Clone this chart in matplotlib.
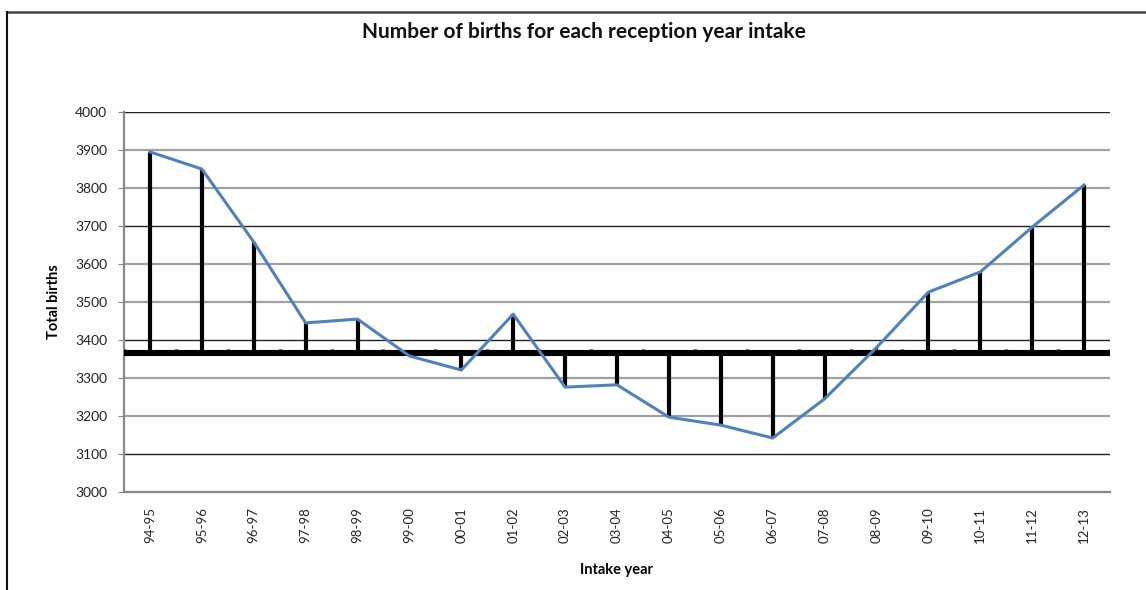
import matplotlib.pyplot as plt
from matplotlib.lines import Line2D
import numpy as np

plt.rcParams['font.family'] = ['Lato', 'DejaVu Sans']

# data
intakeYears = ['94-95', '95-96', '96-97', '97-98', '98-99', '99-00', '00-01',
               '01-02', '02-03', '03-04', '04-05', '05-06', '06-07', '07-08',
               '08-09', '09-10', '10-11', '11-12', '12-13']
totalBirths = [3895, 3850, 3658, 3445, 3455, 3358, 3321, 3468, 3276, 3282,
               3197, 3176, 3142, 3245, 3380, 3526, 3579, 3697, 3808]
baseline = 3365
yTicks = [3000, 3100, 3200, 3300, 3400, 3500, 3600, 3700, 3800, 3900, 4000]

fig = plt.figure(figsize=(11.46, 5.9), dpi=100)
ax = fig.add_axes([124/1146, 1-492/590, 986/1146, 380/590])

x = np.arange(len(intakeYears))
ax.set_xlim(-0.5, len(intakeYears)-0.5)
ax.set_ylim(yTicks[0], yTicks[-1])

#gridlines - some darker than others like in the original
for v in yTicks[1:]:
	if (v-3100) % 300 == 0:
		ax.axhline(v, color='#222222', lw=1.0, zorder=1)
	else:
		ax.axhline(v, color='#a0a0a0', lw=1.6, zorder=1)

#stems from the baseline to each value
ax.vlines(x, baseline, totalBirths, color='black', lw=3.0, zorder=3)

#thick baseline with small tick marks between categories
ax.axhline(baseline, color='black', lw=4.4, zorder=4, solid_capstyle='round')
mids = np.arange(len(intakeYears)+1) - 0.5
ax.vlines(mids, baseline, baseline+12, color='black', lw=2.5, zorder=4)

ax.plot(x, totalBirths, color='#4f81bd', lw=2.2, zorder=5)

ax.set_xticks(x)
ax.set_xticklabels(intakeYears, rotation=90, fontsize=9.5, color='#222222')
ax.tick_params(axis='x', length=0, pad=11)
ax.set_yticks(yTicks)
ax.set_yticklabels([str(v) for v in yTicks], fontsize=10, color='#222222')
ax.tick_params(axis='y', length=4, color='#888888', pad=8)

for s in ['top', 'right']:
	ax.spines[s].set_visible(False)
ax.spines['left'].set_color('#888888')
ax.spines['left'].set_linewidth(1.6)
ax.spines['bottom'].set_color('#888888')
ax.spines['bottom'].set_linewidth(1.6)

ax.set_ylabel('Total births', fontsize=10.5, fontweight='bold', labelpad=10)
ax.set_xlabel('Intake year', fontsize=10.5, fontweight='bold', labelpad=14)

fig.text(584/1146, 1-32/590, 'Number of births for each reception year intake',
		 ha='center', va='center', fontsize=15, fontweight='bold', color='#111111')

#outer frame lines (top and left only)
fig.add_artist(Line2D([7/1146, 1], [1-11.5/590, 1-11.5/590], color='#444444', lw=1.8, transform=fig.transFigure))
fig.add_artist(Line2D([7/1146, 7/1146], [0, 1-11.5/590], color='#111111', lw=1.5, transform=fig.transFigure))

fig.savefig('out.png', dpi=100)
